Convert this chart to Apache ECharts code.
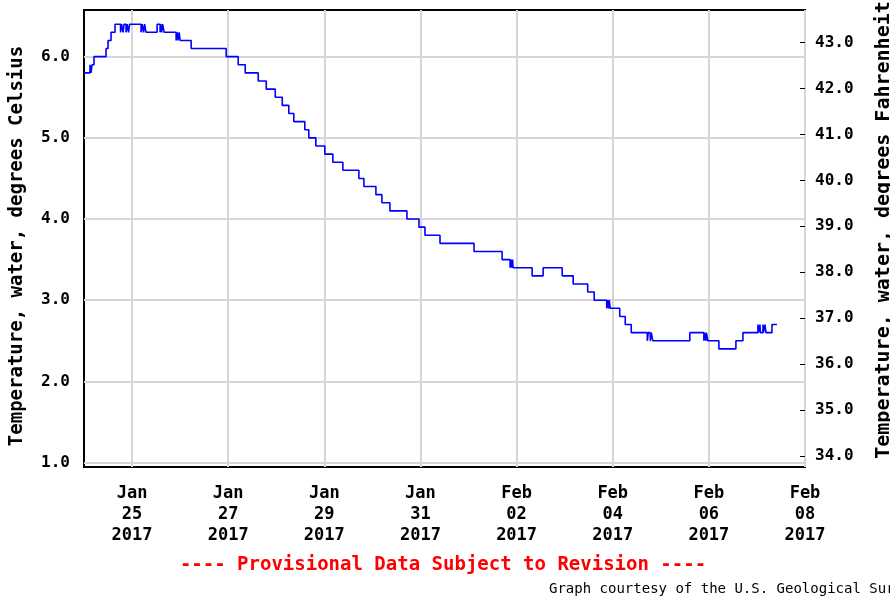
<!DOCTYPE html>
<html><head><meta charset="utf-8">
<script src="https://cdn.jsdelivr.net/npm/echarts@6/dist/echarts.min.js"></script>
<style>html,body{margin:0;padding:0;background:#fff}#c{width:890px;height:599px}</style>
</head><body><div id="c"></div><script>
// ---- data ----
const times = [
'2017-01-24 00:00','2017-01-24 03:00','2017-01-24 03:30','2017-01-24 04:00','2017-01-24 05:00',
'2017-01-24 11:00','2017-01-24 12:00','2017-01-24 13:30','2017-01-24 15:30','2017-01-24 18:15',
'2017-01-24 18:45','2017-01-24 19:30','2017-01-24 20:00','2017-01-24 21:00','2017-01-24 21:30',
'2017-01-24 22:15','2017-01-24 22:45','2017-01-25 04:30','2017-01-25 05:00','2017-01-25 05:45',
'2017-01-25 06:15','2017-01-25 07:00','2017-01-25 12:30','2017-01-25 14:00','2017-01-25 14:15',
'2017-01-25 14:45','2017-01-25 15:15','2017-01-25 16:00','2017-01-25 22:00','2017-01-25 22:30',
'2017-01-25 23:00','2017-01-25 23:30','2017-01-26 00:00','2017-01-26 05:30','2017-01-26 23:00',
'2017-01-27 05:00','2017-01-27 08:30','2017-01-27 15:00','2017-01-27 19:00','2017-01-27 23:30',
'2017-01-28 03:00','2017-01-28 06:15','2017-01-28 08:45','2017-01-28 14:15','2017-01-28 16:15',
'2017-01-28 19:45','2017-01-29 00:15','2017-01-29 04:15','2017-01-29 09:15','2017-01-29 17:15',
'2017-01-29 19:45','2017-01-30 01:45','2017-01-30 04:45','2017-01-30 08:45','2017-01-30 17:15',
'2017-01-30 23:15','2017-01-31 02:15','2017-01-31 09:45','2017-02-01 02:45','2017-02-01 16:45',
'2017-02-01 20:45','2017-02-01 21:15','2017-02-01 21:30','2017-02-01 22:00','2017-02-01 22:15',
'2017-02-02 07:45','2017-02-02 13:15','2017-02-02 22:45','2017-02-03 04:15','2017-02-03 11:30',
'2017-02-03 14:45','2017-02-03 21:00','2017-02-03 21:30','2017-02-03 22:00','2017-02-03 22:15',
'2017-02-03 22:45','2017-02-04 03:30','2017-02-04 06:15','2017-02-04 09:15','2017-02-04 17:15',
'2017-02-04 17:45','2017-02-04 18:45','2017-02-04 19:15','2017-02-04 20:00','2017-02-05 14:30',
'2017-02-05 21:30','2017-02-05 21:45','2017-02-05 22:30','2017-02-05 22:45','2017-02-05 23:30',
'2017-02-06 05:00','2017-02-06 13:30','2017-02-06 17:00','2017-02-07 00:30','2017-02-07 00:45',
'2017-02-07 01:30','2017-02-07 01:45','2017-02-07 03:00','2017-02-07 03:15','2017-02-07 04:00',
'2017-02-07 04:30','2017-02-07 07:30','2017-02-07 10:00'
];
const tempC = [
5.8,5.9,5.8,5.9,6.0,
6.1,6.2,6.3,6.4,6.3,
6.4,6.3,6.4,6.3,6.4,
6.3,6.4,6.3,6.4,6.3,
6.4,6.3,6.4,6.3,6.4,
6.3,6.4,6.3,6.2,6.3,
6.2,6.3,6.2,6.1,6.0,
5.9,5.8,5.7,5.6,5.5,
5.4,5.3,5.2,5.1,5.0,
4.9,4.8,4.7,4.6,4.5,
4.4,4.3,4.2,4.1,4.0,
3.9,3.8,3.7,3.6,3.5,
3.4,3.5,3.4,3.5,3.4,
3.3,3.4,3.3,3.2,3.1,
3.0,2.9,3.0,2.9,3.0,
2.9,2.8,2.7,2.6,2.5,
2.6,2.5,2.6,2.5,2.6,
2.5,2.6,2.5,2.6,2.5,
2.4,2.5,2.6,2.7,2.6,
2.7,2.6,2.7,2.6,2.7,
2.6,2.7,2.7
];
const xStart = '2017-01-24 00:00';
const xEnd = '2017-02-08 00:00';
const xTickDates = ['2017-01-25 00:00','2017-01-27 00:00','2017-01-29 00:00','2017-01-31 00:00',
  '2017-02-02 00:00','2017-02-04 00:00','2017-02-06 00:00','2017-02-08 00:00'];
const celsiusTicks = [1,2,3,4,5,6];
const fahrenheitTicks = [34,35,36,37,38,39,40,41,42,43];
const monthNames = ['Jan','Feb','Mar','Apr','May','Jun','Jul','Aug','Sep','Oct','Nov','Dec'];
const leftName = 'Temperature, water, degrees Celsius';
const rightName = 'Temperature, water, degrees Fahrenheit';
const footer = '---- Provisional Data Subject to Revision ----';
const credit = 'Graph courtesy of the U.S. Geological Survey';

function ts(s){
  const [d,t] = s.split(' ');
  const [y,m,dd] = d.split('-').map(Number);
  const [hh,mm] = (t||'00:00').split(':').map(Number);
  return new Date(y,m-1,dd,hh,mm).getTime();
}
const seriesData = times.map((t,i)=>[ts(t), tempC[i]]);
const xTicks = xTickDates.map(ts);
const FONT = '"DejaVu Sans Mono", monospace';
const grid = '#d6d6d6';

const chart = echarts.init(document.getElementById('c'));
chart.setOption({
  animation:false,
  backgroundColor:'#fff',
  grid:{left:84,right:85,top:10,bottom:132,show:true,borderColor:'#000',borderWidth:2,backgroundColor:'transparent'},
  xAxis:{
    type:'value', min:ts(xStart), max:ts(xEnd),
    axisLine:{show:false},
    axisTick:{show:false, customValues:xTicks},
    axisLabel:{customValues:xTicks, margin:16, lineHeight:21,
      fontFamily:FONT, fontWeight:'bold', fontSize:17, color:'#000',
      formatter:function(v){const d=new Date(v);return monthNames[d.getMonth()]+'\n'+String(d.getDate()).padStart(2,'0')+'\n'+d.getFullYear();},
      showMinLabel:true, showMaxLabel:true, hideOverlap:false},
    splitLine:{show:true, lineStyle:{color:grid,width:2}}
  },
  yAxis:[{
    type:'value', position:'left', min:0.945, max:6.575,
    axisLine:{show:false},
    axisTick:{show:false, customValues:celsiusTicks},
    axisLabel:{customValues:celsiusTicks, margin:14, fontFamily:FONT, fontWeight:'bold', fontSize:16, color:'#000',
      formatter:function(v){return Number(v).toFixed(1);}},
    splitLine:{show:true, lineStyle:{color:grid,width:2}}
  },{
    type:'value', position:'right', min:33.76, max:43.71,
    axisLine:{show:false},
    axisTick:{show:true, inside:true, length:5, customValues:fahrenheitTicks, lineStyle:{color:'#000',width:1}},
    axisLabel:{customValues:fahrenheitTicks, margin:10, fontFamily:FONT, fontWeight:'bold', fontSize:16, color:'#000',
      formatter:function(v){return Number(v).toFixed(1);}},
    splitLine:{show:false}
  }],
  series:[{
    type:'line', step:'end', data:seriesData, yAxisIndex:0,
    showSymbol:false, symbol:'none',
    lineStyle:{color:'#0000ff', width:1.6}
  }],
  graphic:[
    {type:'text', x:17, y:246, rotation:Math.PI/2,
      style:{text:leftName, fontFamily:FONT, fontWeight:'bold', fontSize:19, fill:'#000', align:'center', verticalAlign:'middle'}},
    {type:'text', x:884, y:230, rotation:Math.PI/2,
      style:{text:rightName, fontFamily:FONT, fontWeight:'bold', fontSize:20, fill:'#000', align:'center', verticalAlign:'middle'}},
    {type:'text', x:443, y:565,
      style:{text:footer, fontFamily:FONT, fontWeight:'bold', fontSize:19, fill:'#ff0000', align:'center', verticalAlign:'middle'}},
    {type:'text', x:549, y:589,
      style:{text:credit, fontFamily:FONT, fontSize:14, fill:'#000', align:'left', verticalAlign:'middle'}}
  ]
});
</script></body></html>
